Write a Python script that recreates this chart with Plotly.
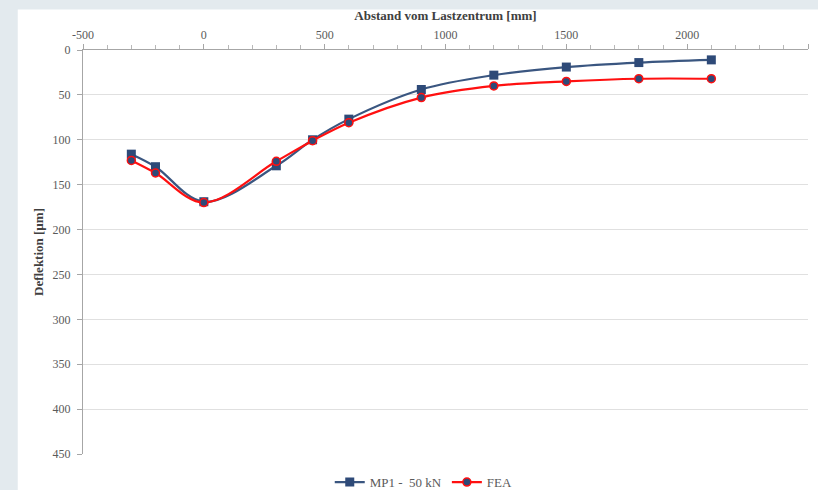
import plotly.graph_objects as go

# Abstand vom Lastzentrum [mm]
distance_mm = [-300, -200, 0, 300, 450, 600, 900, 1200, 1500, 1800, 2100]

# Deflektion [µm]
mp1_50kn = [116, 130, 169, 129, 100, 77, 44, 28, 19, 14, 11]
fea = [123, 137, 170, 124, 101, 81, 53, 40, 35, 32, 32]

x_ticks = [-500, 0, 500, 1000, 1500, 2000, 2500]
y_ticks = [0, 50, 100, 150, 200, 250, 300, 350, 400, 450]

navy = "#2E4A78"
red = "#FF1010"
grey_text = "#5A5A5A"
serif = "Liberation Serif"

fig = go.Figure()

fig.add_trace(go.Scatter(
    x=distance_mm, y=mp1_50kn, name="MP1 -\u00a0 50 kN",
    mode="lines+markers",
    line=dict(color="#3A5680", width=2.2, shape="spline", smoothing=1.0),
    marker=dict(symbol="square", size=9, color=navy),
))

fig.add_trace(go.Scatter(
    x=distance_mm, y=fea, name="FEA",
    mode="lines+markers",
    line=dict(color=red, width=2.2, shape="spline", smoothing=1.0),
    marker=dict(symbol="circle", size=8, color=navy,
                line=dict(color=red, width=1.5)),
))

# white chart panel on the light frame
fig.add_shape(type="rect", xref="paper", yref="paper",
              x0=-0.09, x1=1.05, y0=-0.2, y1=1.1,
              fillcolor="white", line=dict(width=0), layer="below")

fig.update_layout(
    width=818, height=490,
    margin=dict(l=83, r=10, t=50, b=36, autoexpand=False),
    paper_bgcolor="#E3EAEE",
    plot_bgcolor="white",
    font=dict(family=serif, size=12, color=grey_text),
    showlegend=True,
    legend=dict(orientation="h", x=0.47, xanchor="center",
                yref="container", y=0.016, yanchor="middle",
                font=dict(family=serif, size=13, color=grey_text),
                itemwidth=30, bgcolor="rgba(0,0,0,0)"),
)

fig.update_xaxes(
    side="top", range=[-500, 2500],
    tickvals=x_ticks, ticktext=[str(v) for v in x_ticks],
    showgrid=False, zeroline=False,
    showline=True, linecolor="#A6A6A6", linewidth=1,
    ticks="outside", ticklen=5, tickcolor="#A6A6A6",
    minor=dict(dtick=100, ticks="outside", ticklen=4,
               tickcolor="#B8B8B8", showgrid=False),
    tickfont=dict(family=serif, size=12, color=grey_text),
    title=dict(text="<b>Abstand vom Lastzentrum [mm]</b>", standoff=4,
               font=dict(family=serif, size=13, color="#404040")),
)

fig.update_yaxes(
    range=[450, 0],
    tickvals=y_ticks, ticktext=[str(v) for v in y_ticks],
    showgrid=True, gridcolor="#E0E0E0", gridwidth=1,
    zeroline=False,
    showline=True, linecolor="#A6A6A6", linewidth=1,
    ticks="outside", ticklen=5, tickcolor="#A6A6A6",
    ticklabelstandoff=4,
    tickfont=dict(family=serif, size=12, color=grey_text),
    title=dict(text="<b>Deflektion [µm]</b>", standoff=6,
               font=dict(family=serif, size=13, color="#404040")),
)

fig.write_html("out.html")
